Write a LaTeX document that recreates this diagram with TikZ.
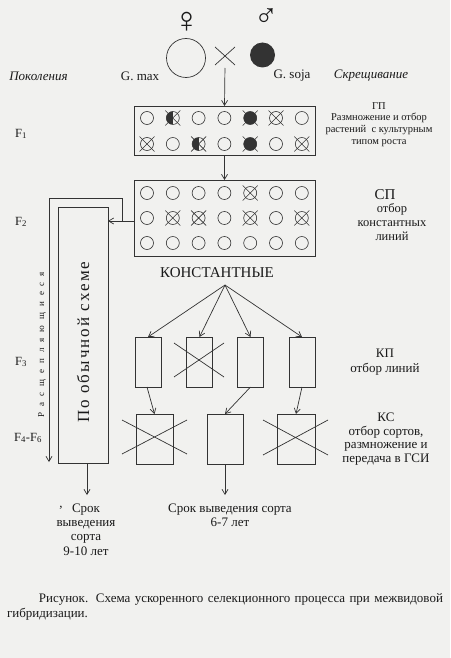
\documentclass[tikz,border=0pt]{standalone}
\usepackage{fontspec}
\setmainfont{Liberation Serif}
\newfontfamily\symfont{Liberation Serif}
\usetikzlibrary{arrows.meta,shapes.misc}
\definecolor{paper}{HTML}{F1F1EF}
\definecolor{ink}{HTML}{333333}
\definecolor{txt}{HTML}{1A1A1A}
\begin{document}
\begin{tikzpicture}[x=1pt,y=-1pt,
  every node/.style={inner sep=0pt, outer sep=0pt, text=txt},
  ln/.style={draw=ink, line width=0.7pt},
  arr/.style={ln, -{Straight Barb[length=5pt,width=6pt]}},
  frm/.style={draw=ink, line width=0.7pt, rectangle},
  cellbase/.style={circle, draw=ink, line width=0.6pt, minimum size=13pt},
  xmk/.style={cross out, draw=ink, line width=0.6pt, minimum size=15pt},
  bigx/.style={cross out, draw=ink, line width=0.7pt},
  co/.style={cellbase},
  cx/.style={cellbase, label={[xmk]center:}},
  cf/.style={cellbase, fill=ink, label={[xmk]center:}},
  ch/.style={cellbase, path picture={\fill[ink] (path picture bounding box.south west) rectangle (path picture bounding box.north);}, label={[xmk]center:}},
  lbl/.style={font=\fontsize{13}{14}\selectfont, align=center},
  gen/.style={font=\fontsize{12.5}{14}\selectfont, align=center},
  sm/.style={font=\fontsize{10.5}{11.7}\selectfont, align=center},
  itl/.style={font=\fontsize{13}{14}\selectfont\itshape},
]
\fill[paper] (0,0) rectangle (450,658);
% parents
\node (fem) at (186.5,22) {\symfont\fontsize{36}{36}\selectfont ♀};
\node (mal) at (266,17.5) {\symfont\fontsize{32}{32}\selectfont ♂};
\node[circle, draw=ink, line width=0.7pt, minimum size=39pt] (gmax) at (186,58) {};
\node[bigx, minimum width=20pt, minimum height=18pt] (crs) at (225,56) {};
\node[circle, fill=ink, minimum size=25pt] (gsoja) at (262.5,55) {};
\node[itl] (pokol) at (38.5,76) {Поколения};
\node[lbl] (nmax) at (140,76) {G. max};
\node[lbl] (nsoja) at (292,76) {G. soja};
\node[itl] (skr) at (371,76) {Скрещивание};
% F1 box
\node[frm, minimum width=181pt, minimum height=49pt] (f1box) at (224.5,130.5) {};
\foreach \t [count=\i] in {co,ch,co,co,cf,cx,co}
  \node[\t] (pa\i) at ({121.2+25.8*\i},118) {};
\foreach \t [count=\i] in {cx,co,ch,co,cf,co,cx}
  \node[\t] (pb\i) at ({121.2+25.8*\i},144) {};
\draw[arr, shorten <=3pt] (crs.south) -- (f1box.north);
% F2 box
\node[frm, minimum width=181pt, minimum height=76pt] (f2box) at (224.5,218) {};
\foreach \t [count=\i] in {co,co,co,co,cx,co,co}
  \node[\t] (qa\i) at ({121.2+25.8*\i},193) {};
\foreach \t [count=\i] in {co,cx,cx,co,cx,co,cx}
  \node[\t] (qb\i) at ({121.2+25.8*\i},218) {};
\foreach \t [count=\i] in {co,co,co,co,co,co,co}
  \node[\t] (qc\i) at ({121.2+25.8*\i},243) {};
\draw[arr] (f1box.south) -- (f2box.north);
% right labels
\node[sm] (gp) at (379,124.5) {ГП\\Размножение и отбор\\растений\ \ с культурным\\типом роста};
\node[font=\fontsize{15}{15}\selectfont] (sp) at (385,195) {СП};
\node[font=\fontsize{12.5}{14}\selectfont, align=center] (spt) at (392,222) {отбор\\константных\\линий};
\node[lbl, font=\fontsize{13}{15}\selectfont] (kpt) at (385,362.5) {КП\\отбор линий};
\node[lbl, font=\fontsize{13}{13.7}\selectfont] (kct) at (386,439) {КС\\отбор сортов,\\размножение и\\передача в ГСИ};
% generations
\node[gen] (g1) at (21,134) {F\textsubscript{1}};
\node[gen] (g2) at (21,222) {F\textsubscript{2}};
\node[gen] (g3) at (21,362) {F\textsubscript{3}};
\node[gen] (g46) at (28,438) {F\textsubscript{4}-F\textsubscript{6}};
% tall rectangle
\node[frm, minimum width=50pt, minimum height=256pt] (tall) at (83,335) {};
\node[rotate=90, font=\fontsize{17}{17}\selectfont] (tallt) at (83,342)
  {\hbox to 161pt{П\hfil о\hskip 0pt plus 3fil о\hfil б\hfil ы\hfil ч\hfil н\hfil о\hfil й\hskip 0pt plus 3fil с\hfil х\hfil е\hfil м\hfil е}};
\coordinate (jn) at (122,221);
\coordinate (tl) at (49,198);
\coordinate (bl) at (49,462);
\draw[arr] (f2box.west |- jn) -- (tall.east |- jn);
\draw[arr] (jn) |- (tl) -- (bl);
\node[rotate=90, font=\fontsize{9}{9}\selectfont] (rasch) at (42,344.5)
  {\hbox to 145pt{Р\hfil а\hfil с\hfil щ\hfil е\hfil п\hfil л\hfil я\hfil ю\hfil щ\hfil и\hfil е\hfil с\hfil я}};
% constants
\node[font=\fontsize{15}{15}\selectfont] (konst) at (217,273) {КОНСТАНТНЫЕ};
\coordinate (apex) at (225,285);
\foreach \xx [count=\i] in {148,199.5,250.5,302}
  \node[frm, minimum width=26pt, minimum height=50pt] (kp\i) at (\xx,362) {};
\foreach \i in {1,...,4}
  \draw[arr] (apex) -- (kp\i.north);
\node[bigx, minimum width=50pt, minimum height=34pt] (kp2x) at (199,360) {};
\node[frm, minimum width=37pt, minimum height=50pt] (kc1) at (154.5,439) {};
\node[frm, minimum width=36pt, minimum height=50pt] (kc2) at (225,439) {};
\node[frm, minimum width=38pt, minimum height=50pt] (kc3) at (296,439) {};
\node[bigx, minimum width=65pt, minimum height=34pt] (kc1x) at (154.5,437) {};
\node[bigx, minimum width=65pt, minimum height=35pt] (kc3x) at (295.5,437.5) {};
\draw[arr] ([xshift=-1pt]kp1.south) -- (kc1.north);
\draw[arr] (kp3.south) -- (kc2.north);
\draw[arr] (kp4.south) -- (kc3.north);
% bottom
\coordinate (tipL) at (87,495);
\coordinate (tipR) at (225,495);
\draw[arr] (tall.south -| tipL) -- (tipL);
\draw[arr] (kc2.south) -- (tipR);
\node[lbl, font=\fontsize{13}{14.3}\selectfont] (srokL) at (86,529.5) {Срок\\выведения\\сорта\\9-10 лет};
\node[lbl] (comma) at (61,508) {,};
\node[lbl, font=\fontsize{13}{14.5}\selectfont] (srokR) at (230,515.5) {Срок выведения сорта\\6-7 лет};
\node[anchor=north west, text width=436pt, align=justify, font=\fontsize{13}{15}\selectfont] (cap) at (7,594)
  {\hspace*{32pt}Рисунок. Схема ускоренного селекционного процесса при межвидовой\linebreak гибридизации.};
\end{tikzpicture}
\end{document}
